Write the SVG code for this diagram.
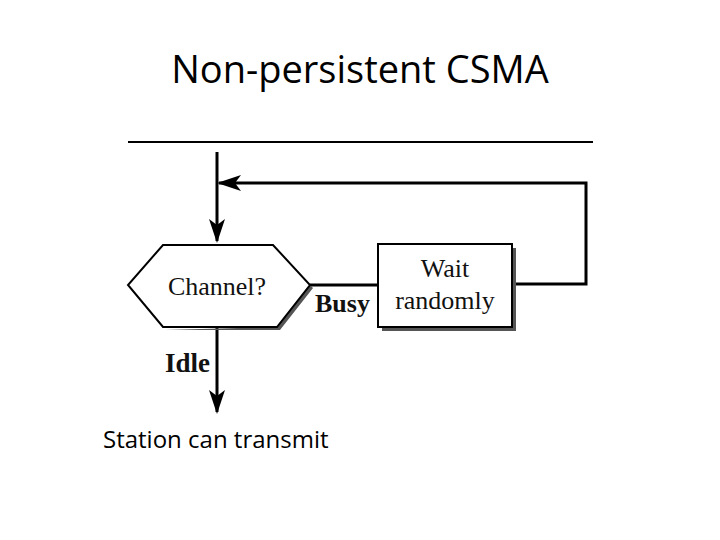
<svg xmlns="http://www.w3.org/2000/svg" width="720" height="540" viewBox="0 0 720 540">
<style>
.ser{font-family:"Liberation Serif","DejaVu Serif",serif;fill:#111}
.sans{font-family:"Open Sans","Liberation Sans",sans-serif;fill:#000}
.ln{stroke:#000;stroke-width:3;fill:none}
</style>
<defs>
<marker id="ah2" markerWidth="24" markerHeight="16" refX="22" refY="8" orient="auto" markerUnits="userSpaceOnUse" viewBox="0 0 24 16">
<path d="M0,0 L24,8 L0,16 L6,8 Z" fill="#000"/>
</marker>
</defs>
<rect width="720" height="540" fill="#fff"/>
<text class="sans" x="360" y="83" font-size="38" text-anchor="middle">Non-persistent CSMA</text>
<line x1="128" y1="142" x2="593" y2="142" stroke="#000" stroke-width="2"/>
<g id="connectors">
<line class="ln" x1="217" y1="152" x2="217" y2="241" marker-end="url(#ah2)"/>
<polyline class="ln" points="516,284 586,284 586,183 219,183" marker-end="url(#ah2)"/>
<line class="ln" x1="310" y1="285" x2="378" y2="285"/>
<line class="ln" x1="217" y1="327" x2="217" y2="412" marker-end="url(#ah2)"/>
<text class="ser" x="315" y="312" font-size="26" font-weight="bold">Busy</text>
<text class="ser" x="165" y="372" font-size="27" font-weight="bold">Idle</text>
</g>
<g id="channel">
<polygon points="165,330 280,330 313,288 310,285 277,327" fill="#555"/>
<polygon points="163,245 273,245 310,285 277,327 163,327 128,285" fill="#fff" stroke="#000" stroke-width="2"/>
<text class="ser" x="217" y="295" font-size="26" text-anchor="middle">Channel?</text>
</g>
<g id="wait">
<rect x="382" y="248" width="134" height="83" fill="#555"/>
<rect x="378" y="244" width="134" height="83" fill="#fff" stroke="#000" stroke-width="2"/>
<text class="ser" x="445" y="277" font-size="26" text-anchor="middle">Wait</text>
<text class="ser" x="445" y="309" font-size="26" text-anchor="middle">randomly</text>
</g>
<text class="sans" x="103" y="448" font-size="24">Station can transmit</text>
</svg>
